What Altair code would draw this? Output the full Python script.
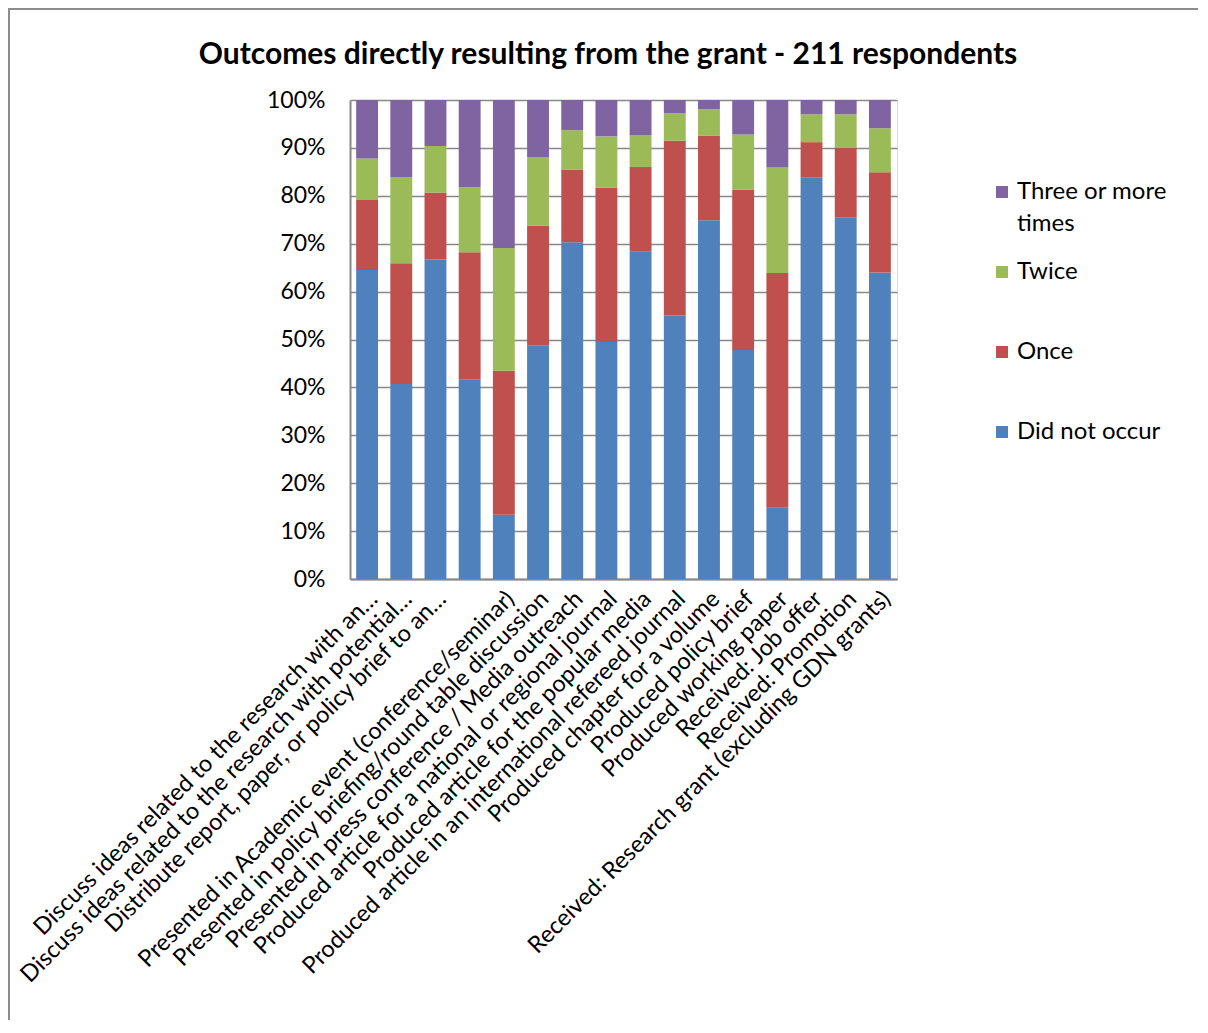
import json
import altair as alt
import pandas as pd

# ---- data (percent of respondents) ----
categories = [
    "Discuss ideas related to the research with an…",
    "Discuss ideas related to the research with potential…",
    "Distribute report, paper, or policy brief to an…",
    "",
    "Presented in Academic event (conference/seminar)",
    "Presented in policy briefing/round table discussion",
    "Presented in press conference / Media outreach",
    "Produced article for a national or regional journal",
    "Produced article for the popular media",
    "Produced article in an international refereed journal",
    "Produced chapter for a volume",
    "Produced policy brief",
    "Produced working paper",
    "Received: Job offer",
    "Received: Promotion",
    "Received: Research grant (excluding GDN grants)",
]
did_not_occur = [64.5, 40.7, 66.7, 41.7, 13.4, 48.8, 70.3, 49.5, 68.3, 55.0, 74.9, 47.8, 14.9, 83.8, 75.5, 64.0]
once = [14.6, 25.2, 14.0, 26.5, 30.1, 25.0, 15.2, 32.2, 17.7, 36.5, 17.7, 33.5, 49.0, 7.4, 14.6, 20.9]
twice = [8.7, 18.0, 9.7, 13.6, 25.6, 14.3, 8.2, 10.7, 6.6, 5.7, 5.5, 11.5, 22.0, 5.8, 6.9, 9.2]
three_or_more = [12.2, 16.1, 9.6, 18.2, 30.9, 11.9, 6.3, 7.6, 7.4, 2.8, 1.9, 7.2, 14.1, 3.0, 3.0, 5.9]

series_names = ["Did not occur", "Once", "Twice", "Three or more times"]
series_values = [did_not_occur, once, twice, three_or_more]
series_colors = ["#4F81BD", "#C0504D", "#9BBB59", "#8064A2"]
y_ticks = [0, 0.1, 0.2, 0.3, 0.4, 0.5, 0.6, 0.7, 0.8, 0.9, 1.0]
title_text = "Outcomes directly resulting from the grant - 211 respondents"

rows = []
for s_idx, (name, vals) in enumerate(zip(series_names, series_values)):
    for i, v in enumerate(vals):
        rows.append({"idx": i, "series": name, "order": s_idx, "value": v})
df = pd.DataFrame(rows)

label_expr = "[" + ",".join(json.dumps(c) for c in categories) + "][datum.value]"
legend_label_expr = (
    "datum.label == 'Three or more times' ? ['Three or more', 'times'] : datum.label"
)

FONT = "Lato"
GRID = "#888888"

PAD_LEFT, PAD_TOP = 342, 92
W, H = 547, 479

bars = alt.Chart(df).mark_bar().encode(
    x=alt.X(
        "idx:O",
        scale=alt.Scale(paddingInner=0.36, paddingOuter=0.18),
        axis=alt.Axis(
            title=None,
            labelExpr=label_expr,
            labelAngle=-45,
            labelAlign="right",
            labelBaseline="middle",
            labelPadding=16,
            labelOffset=7,
            labelFontSize=23.5,
            labelFont=FONT,
            labelColor="#000000",
            labelLimit=0,
            labelOverlap=False,
            ticks=False,
            domainColor=GRID,
            domainWidth=2,
        ),
    ),
    y=alt.Y(
        "value:Q",
        stack="normalize",
        scale=alt.Scale(domain=[0, 1]),
        axis=alt.Axis(
            title=None,
            format=".0%",
            values=y_ticks,
            labelFontSize=23,
            labelFont=FONT,
            labelColor="#000000",
            labelPadding=25,
            ticks=False,
            domainColor=GRID,
            domainWidth=2,
            gridColor=GRID,
            gridWidth=1.5,
        ),
    ),
    color=alt.Color(
        "series:N",
        scale=alt.Scale(domain=series_names[::-1], range=series_colors[::-1]),
        legend=alt.Legend(
            title=None,
            orient="none",
            legendX=640,
            legendY=80,
            symbolType="square",
            symbolSize=144,
            symbolStrokeWidth=0,
            labelFontSize=24,
            labelFont=FONT,
            labelColor="#000000",
            labelOffset=3,
            labelLimit=0,
            labelExpr=legend_label_expr,
            gridAlign="all",
            rowPadding=24,
            padding=0,
        ),
    ),
    order=alt.Order("order:Q", sort="ascending"),
)

title = alt.Chart(pd.DataFrame({"t": [title_text]})).mark_text(
    font=FONT, fontSize=30, fontWeight="bold", color="#000000",
    align="center", baseline="alphabetic",
).encode(
    text="t:N",
    x=alt.value(608 - 8 - PAD_LEFT),
    y=alt.value(64 - 8 - PAD_TOP),
)

frame = alt.Chart(pd.DataFrame({"f": [0]})).mark_rect(
    fill=None, stroke="#8C8C8C", strokeWidth=2
).encode(
    x=alt.value(-PAD_LEFT + 1),
    x2=alt.value(W + 400),
    y=alt.value(-PAD_TOP + 1),
    y2=alt.value(H + 500),
)

chart = (
    alt.layer(bars, title, frame)
    .properties(
        width=W,
        height=H,
        padding={"left": PAD_LEFT, "top": PAD_TOP, "right": 1190 - PAD_LEFT - W, "bottom": 1012 - PAD_TOP - H},
        autosize=alt.AutoSizeParams(type="none"),
    )
    .configure_view(stroke=None)
    .configure(background="white", style={"guide-label": {"lineHeight": 32}})
)

chart.save("out.html", embed_options={"renderer": "svg", "actions": False})
